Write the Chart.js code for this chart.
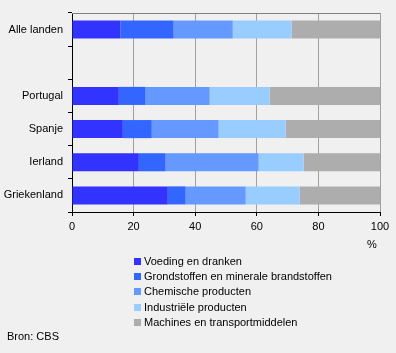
<!DOCTYPE html>
<html>
<head>
<meta charset="utf-8">
<script src="https://cdn.jsdelivr.net/npm/chart.js@4/dist/chart.umd.min.js"></script>
<style>
  body { margin: 0; background: #f0f0f0; font-family: "Liberation Sans", Arial, sans-serif; }
  #wrap { position: relative; width: 396px; height: 353px; background: #f0f0f0; }
  #chart { position: absolute; left: 0; top: 0; }
  .txt { position: absolute; font-size: 11px; color: #000; white-space: nowrap; line-height: 13px; }
  #legend { position: absolute; left: 134px; top: 255px; }
  #legend .item { height: 15.2px; position: relative; }
  #legend .box { position: absolute; left: 0; top: 3px; width: 7px; height: 7px; }
  #legend .lbl { position: absolute; left: 10px; top: 0; font-size: 11px; line-height: 13px; white-space: nowrap; }
</style>
</head>
<body>
<div id="wrap">
  <canvas id="chart" width="396" height="353"></canvas>
  <div class="txt" style="left:367px; top:238px;">%</div>
  <div id="legend"></div>
  <div class="txt" style="left:7px; top:330px;">Bron: CBS</div>
</div>
<script>
// categories (empty row between Alle landen and the countries)
const countries = ['Alle landen', '', 'Portugal', 'Spanje', 'Ierland', 'Griekenland'];

// product groups, share in %
const groups = [
    'Voeding en dranken',
    'Grondstoffen en minerale brandstoffen',
    'Chemische producten',
    'Industriële producten',
    'Machines en transportmiddelen'
];
const voeding      = [15.7, null, 15.2, 16.5, 21.7, 31.1];
const grondstoffen = [17.3, null, 8.7, 9.4, 8.7, 5.8];
const chemisch     = [19.2, null, 20.8, 21.7, 30.2, 19.5];
const industrieel  = [19.1, null, 19.5, 21.8, 14.6, 17.5];
const machines     = [28.7, null, 35.8, 30.6, 24.8, 26.1];

const xTicks = [0, 20, 40, 60, 80, 100];

const colors = ['#3333ff', '#3366ff', '#6699ff', '#99ccff', '#adadad'];
const series = [voeding, grondstoffen, chemisch, industrieel, machines];

// legend in html
const legend = document.getElementById('legend');
groups.forEach((g, i) => {
    const item = document.createElement('div');
    item.className = 'item';
    item.innerHTML = `<span class="box" style="background:${colors[i]}"></span><span class="lbl">${g}</span>`;
    legend.appendChild(item);
});

// top border of the plot area
const frame = {
    id: 'frame',
    beforeDatasetsDraw(chart) {
        const a = chart.chartArea;
        const ctx = chart.ctx;
        ctx.save();
        ctx.strokeStyle = '#808080';
        ctx.lineWidth = 1;
        ctx.beginPath();
        ctx.moveTo(a.left, a.top + 0.5);
        ctx.lineTo(a.right, a.top + 0.5);
        ctx.stroke();
        ctx.restore();
    }
};

const ctx = document.getElementById('chart').getContext('2d');
new Chart(ctx, {
    type: 'bar',
    data: {
        labels: countries,
        datasets: series.map((d, i) => ({
            label: groups[i],
            data: d,
            backgroundColor: colors[i],
            borderWidth: 0,
            barPercentage: 0.545,
            categoryPercentage: 1
        }))
    },
    options: {
        indexAxis: 'y',
        responsive: false,
        animation: false,
        layout: { padding: { top: 13, right: 16, bottom: 113, left: 0 } },
        plugins: {
            legend: { display: false },
            tooltip: { enabled: false }
        },
        scales: {
            x: {
                stacked: true,
                min: 0,
                max: 100,
                afterBuildTicks: (s) => { s.ticks = xTicks.map(v => ({ value: v })); },
                afterFit: (s) => { s.height = 28; },
                grid: { color: '#a0a0a0', tickColor: '#000', tickLength: 4 },
                border: { color: '#000' },
                ticks: { color: '#000', padding: 4, font: { family: 'Liberation Sans', size: 11 } }
            },
            y: {
                stacked: true,
                afterFit: (s) => { s.width = 72; },
                grid: { drawOnChartArea: false, tickColor: '#000', tickLength: 4, offset: true },
                border: { color: '#000' },
                ticks: { color: '#000', padding: 5, font: { family: 'Liberation Sans', size: 11 } }
            }
        }
    },
    plugins: [frame]
});
</script>
</body>
</html>
